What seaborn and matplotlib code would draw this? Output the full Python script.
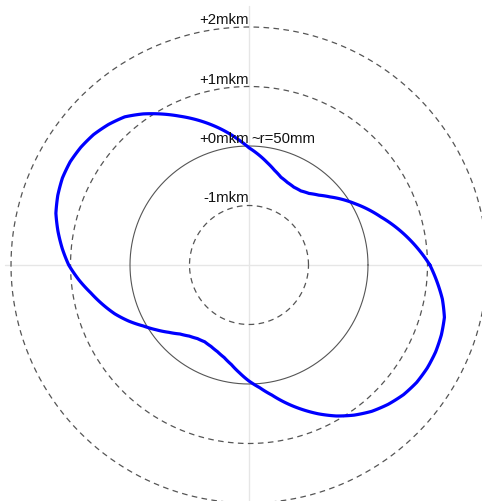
import numpy as np
import pandas as pd
import matplotlib
matplotlib.use("Agg")
import matplotlib.pyplot as plt
import seaborn as sns

# Roundness profile: deviation from the nominal radius (mkm) at each angle (deg)
angle_deg = [0, 5, 10, 15, 20, 25, 30, 35, 40, 45, 50, 55, 60, 65, 70, 75, 80, 85,
             90, 95, 100, 105, 110, 115, 120, 125, 130, 135, 140, 145, 150, 155, 160, 165, 170, 175,
             180, 185, 190, 195, 200, 205, 210, 215, 220, 225, 230, 235, 240, 245, 250, 255, 260, 265,
             270, 275, 280, 285, 290, 295, 300, 305, 310, 315, 320, 325, 330, 335, 340, 345, 350, 355]
deviation_mkm = [1.04, 0.87, 0.70, 0.53, 0.36, 0.21, 0.06, -0.08, -0.22, -0.34, -0.43, -0.48, -0.49, -0.47, -0.43, -0.35, -0.25, -0.14,
                 -0.03, 0.12, 0.28, 0.44, 0.60, 0.76, 0.93, 1.10, 1.25, 1.34, 1.41, 1.45, 1.47, 1.46, 1.42, 1.36, 1.26, 1.15,
                 1.03, 0.87, 0.70, 0.55, 0.40, 0.23, 0.05, -0.10, -0.24, -0.36, -0.44, -0.49, -0.51, -0.49, -0.45, -0.39, -0.30, -0.18,
                 -0.05, 0.07, 0.22, 0.40, 0.58, 0.76, 0.93, 1.08, 1.21, 1.31, 1.39, 1.44, 1.46, 1.46, 1.44, 1.40, 1.30, 1.17]

# Reference rings (mkm) and their labels
ring_levels = [-1, 0, 1, 2]
ring_labels = ["-1mkm", "+0mkm", "+1mkm", "+2mkm"]
radius_note = "~r=50mm"

# The plotted radius is offset so that -2 mkm sits at the centre
OFFSET = 2.0

sns.set_theme(style="white")
plt.rcParams["font.family"] = ["Liberation Sans", "DejaVu Sans"]

W, H = 482, 502
PX = 59.5          # pixels per mkm
CX, CY = 249, 266  # centre in pixels (from top-left)
RMAX = 4.45        # polar extent in mkm units

fig = plt.figure(figsize=(W / 100, H / 100), dpi=100)
side = 2 * RMAX * PX
cy_bottom = H - CY
ax = fig.add_axes([(CX - RMAX * PX) / W, (cy_bottom - RMAX * PX) / H, side / W, side / H],
                  projection="polar")
ax.set_theta_zero_location("E")
ax.set_ylim(0, RMAX)
ax.grid(False)
ax.spines["polar"].set_visible(False)
ax.patch.set_alpha(0)

# Cross hairs
hair = dict(color="#e6e6e6", lw=1.0, zorder=1)
ax.plot([0, 0], [0, RMAX], **hair)
ax.plot([np.pi, np.pi], [0, (CX - 5) / PX], **hair)
ax.plot([np.pi / 2, np.pi / 2], [0, (CY - 7) / PX], **hair)
ax.plot([3 * np.pi / 2, 3 * np.pi / 2], [0, RMAX], **hair)

# Rings
t = np.linspace(0, 2 * np.pi, 721)
for lvl, lab in zip(ring_levels, ring_labels):
    r = lvl + OFFSET
    if lvl == 0:
        ax.plot(t, np.full_like(t, r), color="#555555", lw=0.8, zorder=2)
    else:
        ax.plot(t, np.full_like(t, r), color="#555555", lw=0.9,
                linestyle=(0, (4.5, 3.5)), zorder=2)
    ax.text(np.pi / 2, r + 4 / PX, lab, ha="right", va="baseline", fontsize=10.7,
            color="#111111", zorder=4)
nx, ny = 2 / PX, OFFSET + 4 / PX
ax.text(np.arctan2(ny, nx), np.hypot(nx, ny), radius_note, ha="left", va="baseline",
        fontsize=10.7, color="#111111", zorder=4)

# Profile curve
th = np.deg2rad(np.array(angle_deg + [360], dtype=float))
rr = np.array(deviation_mkm + [deviation_mkm[0]], dtype=float) + OFFSET
df = pd.DataFrame({"theta": th, "r": rr})
sns.lineplot(data=df, x="theta", y="r", sort=False, estimator=None, color="#0000ff",
             lw=2.3, ax=ax, zorder=3)
profile = ax.lines[-1]
profile.set_solid_joinstyle("round")
# follow the polar grid between samples instead of straight chords
profile.get_path()._interpolation_steps = 16

ax.set_xlabel("")
ax.set_ylabel("")
ax.set_ylim(0, RMAX)
ax.set_xticks([])
ax.set_yticks([])

fig.savefig("out.png", dpi=100, facecolor="white")
